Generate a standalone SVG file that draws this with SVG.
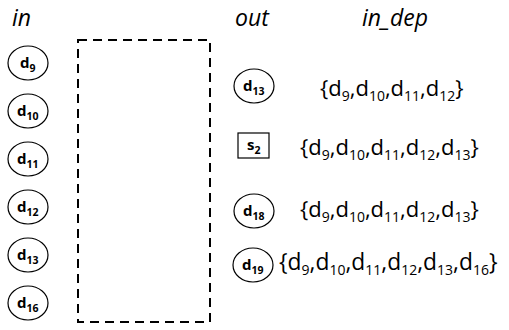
<svg xmlns="http://www.w3.org/2000/svg" width="509" height="330" viewBox="0 0 509 330">
<style>
.hdr{font-family:"Open Sans","Liberation Sans",sans-serif;font-style:italic;font-size:23px;fill:#000}
.nd{fill:#fff;stroke:#000;stroke-width:1.2}
.lbl{font-family:"Open Sans","Liberation Sans",sans-serif;font-weight:bold;font-size:15px;fill:#000}
.sb{font-size:10.5px}
.set{font-family:"Open Sans","Liberation Sans",sans-serif;font-size:22px;fill:#000}
.ss{font-size:14px}
</style>
<rect width="509" height="330" fill="#fff"/>
<text class="hdr" x="12" y="26">in</text>
<text class="hdr" x="235" y="26">out</text>
<text class="hdr" x="362" y="26">in_dep</text>
<g id="connectors">
<rect x="78" y="40" width="132" height="282" fill="none" stroke="#000" stroke-width="2" stroke-dasharray="9,6"/>
</g>
<g id="in_d9"><ellipse class="nd" cx="28" cy="63" rx="20" ry="17"/><text class="lbl" x="20" y="68">d<tspan class="sb" dy="4">9</tspan></text></g>
<g id="in_d10"><ellipse class="nd" cx="28" cy="111" rx="20" ry="17"/><text class="lbl" x="17" y="116">d<tspan class="sb" dy="4">10</tspan></text></g>
<g id="in_d11"><ellipse class="nd" cx="28" cy="159" rx="20" ry="17"/><text class="lbl" x="17" y="164">d<tspan class="sb" dy="4">11</tspan></text></g>
<g id="in_d12"><ellipse class="nd" cx="28" cy="207" rx="20" ry="17"/><text class="lbl" x="17" y="212">d<tspan class="sb" dy="4">12</tspan></text></g>
<g id="in_d13"><ellipse class="nd" cx="28" cy="255" rx="20" ry="17"/><text class="lbl" x="17" y="260">d<tspan class="sb" dy="4">13</tspan></text></g>
<g id="in_d16"><ellipse class="nd" cx="28" cy="303" rx="20" ry="17"/><text class="lbl" x="17" y="308">d<tspan class="sb" dy="4">16</tspan></text></g>
<g id="out_d13"><ellipse class="nd" cx="254" cy="86" rx="20" ry="17"/><text class="lbl" x="243" y="91">d<tspan class="sb" dy="4">13</tspan></text></g>
<g id="out_s2"><rect class="nd" x="238" y="133" width="31" height="25"/><text class="lbl" x="247" y="150">s<tspan class="sb" dy="4">2</tspan></text></g>
<g id="out_d18"><ellipse class="nd" cx="254" cy="211" rx="20" ry="17"/><text class="lbl" x="243" y="216">d<tspan class="sb" dy="4">18</tspan></text></g>
<g id="out_d19"><ellipse class="nd" cx="253" cy="265" rx="20" ry="17"/><text class="lbl" x="242" y="270">d<tspan class="sb" dy="4">19</tspan></text></g>
<text class="set" x="320" y="96">{d<tspan class="ss" dy="5">9</tspan><tspan dy="-5">,d</tspan><tspan class="ss" dy="5">10</tspan><tspan dy="-5">,d</tspan><tspan class="ss" dy="5">11</tspan><tspan dy="-5">,d</tspan><tspan class="ss" dy="5">12</tspan><tspan dy="-5">}</tspan></text>
<text class="set" x="300" y="155">{d<tspan class="ss" dy="5">9</tspan><tspan dy="-5">,d</tspan><tspan class="ss" dy="5">10</tspan><tspan dy="-5">,d</tspan><tspan class="ss" dy="5">11</tspan><tspan dy="-5">,d</tspan><tspan class="ss" dy="5">12</tspan><tspan dy="-5">,d</tspan><tspan class="ss" dy="5">13</tspan><tspan dy="-5">}</tspan></text>
<text class="set" x="300" y="217">{d<tspan class="ss" dy="5">9</tspan><tspan dy="-5">,d</tspan><tspan class="ss" dy="5">10</tspan><tspan dy="-5">,d</tspan><tspan class="ss" dy="5">11</tspan><tspan dy="-5">,d</tspan><tspan class="ss" dy="5">12</tspan><tspan dy="-5">,d</tspan><tspan class="ss" dy="5">13</tspan><tspan dy="-5">}</tspan></text>
<text class="set" x="279" y="270" style="font-size:22.8px">{d<tspan class="ss" dy="5">9</tspan><tspan dy="-5">,d</tspan><tspan class="ss" dy="5">10</tspan><tspan dy="-5">,d</tspan><tspan class="ss" dy="5">11</tspan><tspan dy="-5">,d</tspan><tspan class="ss" dy="5">12</tspan><tspan dy="-5">,d</tspan><tspan class="ss" dy="5">13</tspan><tspan dy="-5">,d</tspan><tspan class="ss" dy="5">16</tspan><tspan dy="-5">}</tspan></text>
</svg>
